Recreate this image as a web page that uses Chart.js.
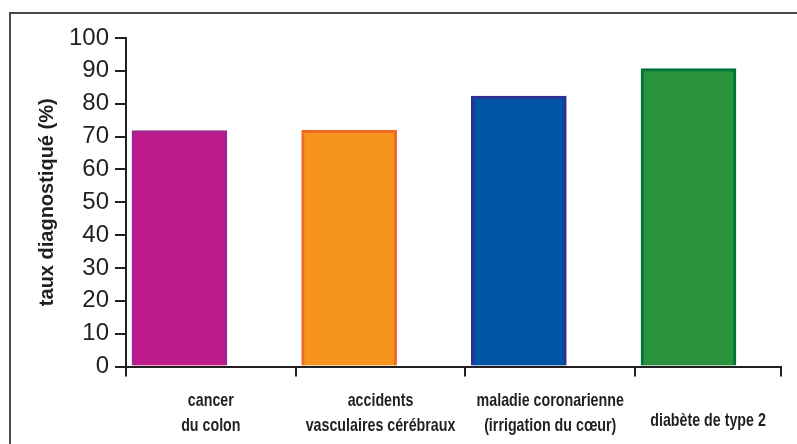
<!DOCTYPE html>
<html>
<head>
<meta charset="utf-8">
<script src="https://cdn.jsdelivr.net/npm/chart.js@4/dist/chart.umd.min.js"></script>
<style>
  html, body { margin: 0; padding: 0; background: #ffffff; }
  #wrap { position: relative; width: 797px; height: 444px; overflow: hidden; }
  #frame {
    position: absolute; left: 9px; top: 12px; width: 820px; height: 460px;
    border-left: 2px solid #4a4a4a; border-top: 2px solid #4a4a4a;
  }
  #c { position: absolute; left: 0; top: 0; }
</style>
</head>
<body>
<div id="wrap">
  <div id="frame"></div>
  <canvas id="c" width="797" height="444"></canvas>
</div>
<script>
// Diagnosis rate by disease
const CATEGORIES = [
  ['cancer', 'du colon'],
  ['accidents', 'vasculaires cérébraux'],
  ['maladie coronarienne', '(irrigation du cœur)'],
  ['diabète de type 2']
];
const VALUES = [71.8, 71.9, 82.3, 90.7];
const FILL_COLORS = ['#be1b8c', '#f7941d', '#0054a4', '#2a913c'];
const BORDER_COLORS = ['#a2268f', '#f26a22', '#2e3192', '#00733a'];
const Y_TITLE = 'taux diagnostiqué (%)';

const INK = '#231f20';
const X_MAX = 3.86;        // the axis stops part-way into the last category
const BAR_CENTER = 0.315;  // bar centre within its category slot (slot width = 1)
const LABEL_STRETCH = 0.75; // condensed look for the category labels
const SINGLE_LINE_DROP = 0.3; // single-line labels sit a little below the block centre
const LABEL_FONT = { family: "'Liberation Sans', Arial, sans-serif", size: 19, weight: 'bold', lineHeight: 1.32 };

// Category labels are drawn horizontally condensed around their own centre.
const condensedLabels = {
  id: 'condensedLabels',
  afterLayout(chart) {
    const scale = chart.scales.x2;
    if (!scale || scale._condensed) return;
    scale._condensed = true;
    scale.drawLabels = function (chartArea) {
      const ctx = this.ctx;
      for (const item of this.getLabelItems(chartArea)) {
        const o = item.options;
        ctx.save();
        ctx.translate(o.translation[0], o.translation[1]);
        ctx.scale(LABEL_STRETCH, 1);
        ctx.font = item.font.string;
        ctx.fillStyle = o.color;
        ctx.textAlign = o.textAlign;
        ctx.textBaseline = o.textBaseline;
        const lines = Array.isArray(item.label) ? item.label : [item.label];
        let y = item.textOffset;
        if (lines.length === 1) y += item.font.lineHeight * SINGLE_LINE_DROP;
        for (const line of lines) {
          ctx.fillText(line, 0, y);
          y += item.font.lineHeight;
        }
        ctx.restore();
      }
    };
  }
};

new Chart(document.getElementById('c'), {
  type: 'bar',
  data: {
    datasets: [{
      data: VALUES.map((v, i) => ({ x: i + BAR_CENTER, y: v })),
      backgroundColor: FILL_COLORS,
      borderColor: BORDER_COLORS,
      borderWidth: 3,
      borderSkipped: 'bottom',
      barThickness: 95,
      xAxisID: 'x',
      yAxisID: 'y'
    }]
  },
  plugins: [condensedLabels],
  options: {
    responsive: false,
    animation: false,
    devicePixelRatio: 1,
    layout: { padding: { left: 0, top: 38, right: 16, bottom: 0 } },
    plugins: { legend: { display: false }, tooltip: { enabled: false } },
    scales: {
      x: {
        type: 'linear', position: 'bottom', min: 0, max: X_MAX, offset: false,
        afterBuildTicks: s => { s.ticks = [0, 1, 2, 3, X_MAX].map(v => ({ value: v })); },
        ticks: { display: false },
        grid: { offset: false, drawOnChartArea: false, drawTicks: true, tickLength: 10, color: INK, lineWidth: 2 },
        border: { display: true, color: INK, width: 2 },
        afterFit: s => { s.height = 12; s.paddingLeft = 0; s.paddingRight = 0; }
      },
      x2: {
        type: 'linear', position: 'bottom', min: 0, max: X_MAX, offset: false,
        afterBuildTicks: s => {
          s.ticks = CATEGORIES.map((c, i) => ({ value: (i + Math.min(i + 1, X_MAX)) / 2 }));
        },
        ticks: {
          autoSkip: false, maxRotation: 0, minRotation: 0, crossAlign: 'center',
          padding: 22, color: INK, font: LABEL_FONT,
          callback: (v, i) => CATEGORIES[i]
        },
        grid: { display: false, offset: false, drawTicks: false },
        border: { display: false },
        afterFit: s => { s.height = 444 - 366.5 - 12; s.paddingLeft = 0; s.paddingRight = 0; }
      },
      y: {
        min: 0, max: 100,
        ticks: {
          stepSize: 10, padding: 6, color: INK,
          font: { family: "'Liberation Sans', Arial, sans-serif", size: 24 }
        },
        grid: { drawOnChartArea: false, drawTicks: true, tickLength: 11, color: INK, lineWidth: 2 },
        border: { display: true, color: INK, width: 2 },
        title: {
          display: true, text: Y_TITLE, color: INK,
          font: { family: "'Liberation Sans', Arial, sans-serif", size: 20, weight: 'bold' },
          padding: { top: 35, bottom: 0 }
        },
        afterFit: s => { s.width = 126; }
      }
    }
  }
});
</script>
</body>
</html>
